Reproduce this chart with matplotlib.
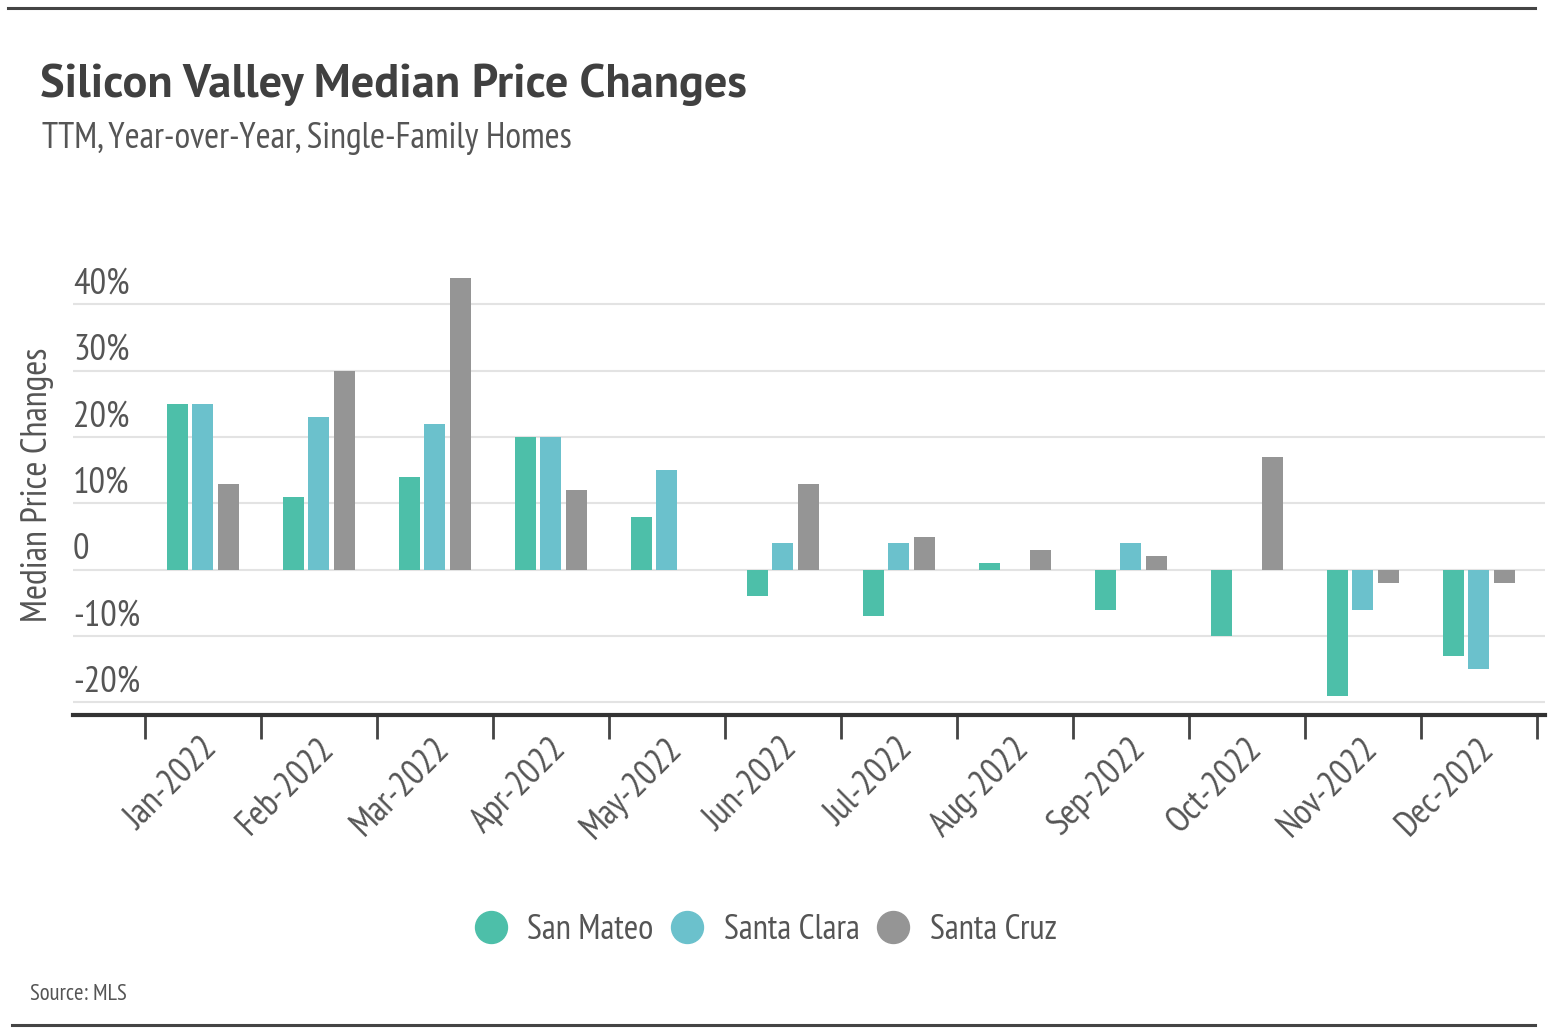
import matplotlib
matplotlib.use("Agg")
import matplotlib.pyplot as plt
import numpy as np
from matplotlib.lines import Line2D
from matplotlib.transforms import ScaledTranslation
from matplotlib import font_manager as fm

months = ["Jan-2022", "Feb-2022", "Mar-2022", "Apr-2022", "May-2022", "Jun-2022",
          "Jul-2022", "Aug-2022", "Sep-2022", "Oct-2022", "Nov-2022", "Dec-2022"]
series_names = ["San Mateo", "Santa Clara", "Santa Cruz"]
san_mateo = [25, 11, 14, 20, 8, -4, -7, 1, -6, -10, -19, -13]
santa_clara = [25, 23, 22, 20, 15, 4, 4, 0, 4, 0, -6, -15]
santa_cruz = [13, 30, 44, 12, 0, 13, 5, 3, 2, 17, -2, -2]
ytick_values = [-20, -10, 0, 10, 20, 30, 40]
ytick_labels = ["-20%", "-10%", "0", "10%", "20%", "30%", "40%"]

colors = ["#4dbfa9", "#6bc1cc", "#959595"]
available = {f.name for f in fm.fontManager.ttflist}
candidates = ["PT Sans Narrow", "Archivo Narrow", "Barlow Semi Condensed", "Liberation Sans Narrow"]
FONT = [c for c in candidates if c in available][:1] + ["DejaVu Sans"]
if "PT Sans" in available:
    TITLE_FONT, TITLE_SIZE = ["PT Sans", "DejaVu Sans"], 33.4
else:
    TITLE_FONT, TITLE_SIZE = FONT, 40
plt.rcParams["font.family"] = FONT
text_dark = "#404040"
text_mid = "#555555"

W, H = 1550, 1036
fig = plt.figure(figsize=(W / 100, H / 100), dpi=100)
ax = fig.add_axes([73 / W, 1 - 715 / H, (1545 - 73) / W, (715 - 260) / H])

x = np.arange(len(months))
bw = 0.18
off = 0.22
for i, (vals, c, name) in enumerate(zip([san_mateo, santa_clara, santa_cruz], colors, series_names)):
    ax.bar(x + (i - 1) * off, vals, width=bw, color=c, label=name, zorder=3)

ax.set_xlim(-1.12, 11.57)
ax.set_ylim(-21.9, 46.7)

ax.set_yticks(ytick_values)
ax.set_yticklabels(ytick_labels)
ax.yaxis.grid(True, color="#e3e3e3", linewidth=1.5, zorder=0)
ax.tick_params(axis="y", length=0, pad=0, labelsize=26.5, labelcolor=text_mid)
for lab in ax.get_yticklabels():
    lab.set_horizontalalignment("left")
    lab.set_transform(lab.get_transform() + ScaledTranslation(0, 24 / 100, fig.dpi_scale_trans))

ax.set_xticks(x)
ax.set_xticks(np.arange(-0.5, 12, 1), minor=True)
ax.tick_params(axis="x", which="major", length=0, pad=12, labelsize=26,
               labelcolor=text_mid, labelrotation=45)
ax.tick_params(axis="x", which="minor", length=17, width=2, color="#444444", direction="out")
ax.set_xticklabels(months)
for lab in ax.get_xticklabels():
    lab.set_horizontalalignment("right")
    lab.set_rotation_mode("anchor")
    lab.set_transform(lab.get_transform() + ScaledTranslation(-2 / 100, 0, fig.dpi_scale_trans))

for s in ["top", "right", "left"]:
    ax.spines[s].set_visible(False)
ax.spines["bottom"].set_color("#333333")
ax.spines["bottom"].set_linewidth(3)

fig.text(40 / W, 1 - 97 / H, "Silicon Valley Median Price Changes", fontsize=TITLE_SIZE,
         fontweight="bold", color=text_dark, va="baseline", ha="left", family=TITLE_FONT)
fig.text(42 / W, 1 - 148 / H, "TTM, Year-over-Year, Single-Family Homes", fontsize=26,
         color=text_mid, va="baseline", ha="left")
fig.text(38 / W, 1 - 485 / H, "Median Price Changes", fontsize=26, rotation=90,
         color=text_mid, va="center", ha="center")
fig.text(30 / W, 1 - 1000 / H, "Source: MLS", fontsize=16.4, color=text_mid,
         va="baseline", ha="left")

handles = [Line2D([0], [0], marker="o", linestyle="none", markersize=23,
                  markerfacecolor=c, markeredgecolor=c) for c in colors]
fig.legend(handles, series_names, loc="center", bbox_to_anchor=(765 / W, 1 - 930 / H),
           ncol=3, frameon=False, fontsize=25, handlelength=1.0, handletextpad=0.55,
           columnspacing=0.47, labelcolor=text_mid)

fig.add_artist(Line2D([8 / W, 1535 / W], [1 - 8 / H, 1 - 8 / H], color="#444444", linewidth=2.2))
fig.add_artist(Line2D([12 / W, 1535 / W], [1 - 1025 / H, 1 - 1025 / H], color="#444444", linewidth=2.2))

fig.savefig("out.png", dpi=100, facecolor="white")
